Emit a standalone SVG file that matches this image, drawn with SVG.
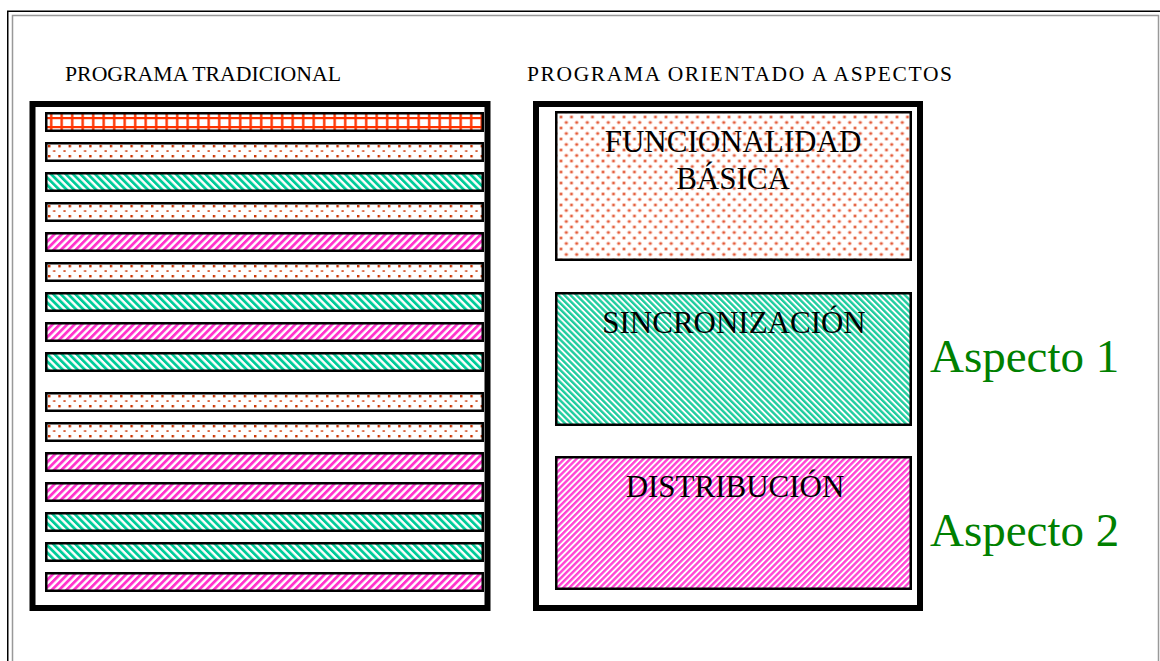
<svg xmlns="http://www.w3.org/2000/svg" width="1160" height="661" viewBox="0 0 1160 661">
<style>
.lbl{font-family:"Liberation Serif","Times New Roman",serif;font-size:21.5px;fill:#000}
.big{font-family:"Liberation Serif","Times New Roman",serif;font-size:31px;fill:#000;text-anchor:middle}
.asp{font-family:"Liberation Serif","Times New Roman",serif;font-size:47px;fill:#008000}
.bar{stroke:#000;stroke-width:2.5}
.frame{fill:#fff;stroke:#000;stroke-width:6}
.box{stroke:#000;stroke-width:2.5}
</style>
<defs>
<pattern id="grid" patternUnits="userSpaceOnUse" x="46" y="114" width="10.5" height="9">
<rect width="10.5" height="9" fill="#fff"/>
<rect x="4" y="0" width="2.4" height="9" fill="#FF3300"/>
<rect x="0" y="3" width="10.5" height="2.2" fill="#FF3300"/>
</pattern>
<pattern id="dots" patternUnits="userSpaceOnUse" x="48" y="145" width="10.3" height="10">
<rect width="10.3" height="10" fill="#fff"/>
<rect x="0" y="0" width="2.4" height="2.4" fill="#CC3300"/>
<rect x="5.1" y="5.3" width="2.2" height="1.5" fill="#CC3300"/>
</pattern>
<pattern id="grn" patternUnits="userSpaceOnUse" width="5.2" height="10" patternTransform="rotate(-45)">
<rect width="5.2" height="10" fill="#fff"/>
<rect width="2.8" height="10" fill="#00CC99"/>
</pattern>
<pattern id="pnk" patternUnits="userSpaceOnUse" width="5.2" height="10" patternTransform="rotate(45)">
<rect width="5.2" height="10" fill="#fff"/>
<rect width="2.8" height="10" fill="#FF33CC"/>
</pattern>
<pattern id="grnF" patternUnits="userSpaceOnUse" width="4.3" height="10" patternTransform="rotate(-45)">
<rect width="4.3" height="10" fill="#fff"/>
<rect width="2.4" height="10" fill="#1FCC9E"/>
</pattern>
<pattern id="pnkF" patternUnits="userSpaceOnUse" width="4.3" height="10" patternTransform="rotate(45)">
<rect width="4.3" height="10" fill="#fff"/>
<rect width="2.4" height="10" fill="#FF44D4"/>
</pattern>
<pattern id="spk" patternUnits="userSpaceOnUse" x="559" y="115" width="10.5" height="11">
<rect width="10.5" height="11" fill="#fff"/>
<circle cx="2" cy="2" r="2" fill="#F6B8A6"/>
<circle cx="2" cy="2" r="1.1" fill="#E0502E"/>
<circle cx="7.25" cy="7.5" r="2" fill="#F6B8A6"/>
<circle cx="7.25" cy="7.5" r="1.1" fill="#E0502E"/>
</pattern>
</defs>

<rect x="0" y="0" width="1160" height="661" fill="#fff"/>
<g id="page-frame" fill="none">
<rect x="7.75" y="11.25" width="1160" height="700" stroke="#000" stroke-width="1.5"/>
<rect x="12.5" y="15.5" width="1146" height="700" stroke="#999" stroke-width="1.5"/>
</g>

<g id="traditional">
<text class="lbl" x="65" y="81" textLength="276" lengthAdjust="spacingAndGlyphs">PROGRAMA TRADICIONAL</text>
<rect class="frame" x="32.5" y="104" width="455" height="504"/>
<rect class="bar" x="46.25" y="113.25" width="436.5" height="17.5" fill="url(#grid)"/>
<rect class="bar" x="46.25" y="143.25" width="436.5" height="17.5" fill="url(#dots)"/>
<rect class="bar" x="46.25" y="173.25" width="436.5" height="17.5" fill="url(#grn)"/>
<rect class="bar" x="46.25" y="203.25" width="436.5" height="17.5" fill="url(#dots)"/>
<rect class="bar" x="46.25" y="233.25" width="436.5" height="17.5" fill="url(#pnk)"/>
<rect class="bar" x="46.25" y="263.25" width="436.5" height="17.5" fill="url(#dots)"/>
<rect class="bar" x="46.25" y="293.25" width="436.5" height="17.5" fill="url(#grn)"/>
<rect class="bar" x="46.25" y="323.25" width="436.5" height="17.5" fill="url(#pnk)"/>
<rect class="bar" x="46.25" y="353.25" width="436.5" height="17.5" fill="url(#grn)"/>
<rect class="bar" x="46.25" y="393.25" width="436.5" height="17.5" fill="url(#dots)"/>
<rect class="bar" x="46.25" y="423.25" width="436.5" height="17.5" fill="url(#dots)"/>
<rect class="bar" x="46.25" y="453.25" width="436.5" height="17.5" fill="url(#pnk)"/>
<rect class="bar" x="46.25" y="483.25" width="436.5" height="17.5" fill="url(#pnk)"/>
<rect class="bar" x="46.25" y="513.25" width="436.5" height="17.5" fill="url(#grn)"/>
<rect class="bar" x="46.25" y="543.25" width="436.5" height="17.5" fill="url(#grn)"/>
<rect class="bar" x="46.25" y="573.25" width="436.5" height="17.5" fill="url(#pnk)"/>
</g>

<g id="aspect-oriented">
<text class="lbl" x="527" y="81" textLength="425" lengthAdjust="spacing">PROGRAMA ORIENTADO A ASPECTOS</text>
<rect class="frame" x="536" y="104" width="384" height="504"/>
</g>

<g id="funcionalidad">
<rect class="box" x="556.25" y="112.25" width="354.5" height="147.5" fill="url(#spk)"/>
<text class="big" x="733" y="152">FUNCIONALIDAD</text>
<text class="big" x="733" y="189">BÁSICA</text>
</g>

<g id="sincronizacion">
<rect class="box" x="556.25" y="293.25" width="354.5" height="131.5" fill="url(#grnF)"/>
<text class="big" x="734" y="333">SINCRONIZACIÓN</text>
</g>

<g id="distribucion">
<rect class="box" x="556.25" y="457.25" width="354.5" height="131.5" fill="url(#pnkF)"/>
<text class="big" x="735" y="497">DISTRIBUCIÓN</text>
</g>

<g id="aspect-labels">
<text class="asp" x="930" y="372">Aspecto 1</text>
<text class="asp" x="930" y="546">Aspecto 2</text>
</g>
<g id="connectors"/>
</svg>
